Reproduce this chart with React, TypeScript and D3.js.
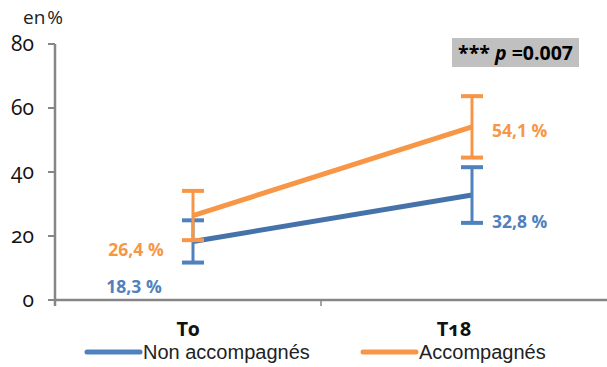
import React from "react";
import * as d3 from "d3";

// Chart data
const categories = ["T0", "T18"];
const seriesNames = ["Non accompagnés", "Accompagnés"];
const nonAccompagnes = [18.3, 32.8];
const accompagnes = [26.4, 54.1];
const nonAccompagnesErr = [6.6, 8.7];
const accompagnesErr = [7.7, 9.6];
const yTicks = [0, 20, 40, 60, 80];
const pValueLabel = "0.007";

const W = 607;
const H = 367;
const BLUE = "#4F81BD";
const BLUE_LINE = "#4672AA";
const ORANGE = "#F79646";
const AXIS = "#868686";
const tickFont = "'Open Sans', 'DejaVu Sans', sans-serif";
const labelFont = "'Open Sans', 'Liberation Sans', sans-serif";

export default function App() {
  const y = d3.scaleLinear().domain([0, 80]).range([300, 44]);
  const xBand = d3.scaleBand<string>().domain(categories).range([55, 587]);
  const xPt = d3.scalePoint<string>().domain(categories).range([193, 472]);

  const line = d3
    .line<number>()
    .x((_, i) => xPt(categories[i]) as number)
    .y((d) => y(d));

  const series = [
    { name: seriesNames[0], values: nonAccompagnes, err: nonAccompagnesErr, color: BLUE, lineColor: BLUE_LINE },
    { name: seriesNames[1], values: accompagnes, err: accompagnesErr, color: ORANGE, lineColor: ORANGE },
  ];

  const fmt = (v: number) => v.toFixed(1).replace(".", ",") + " %";

  return (
    <svg
      width={W}
      height={H}
      style={{ position: "absolute", left: 0, top: 0, background: "#fff" }}
    >
      {/* unit label */}
      <text x={23} y={24} fontFamily={labelFont} fontSize={19} wordSpacing={-3} fill="#222">
        en %
      </text>

      {/* y axis */}
      <line x1={55} x2={55} y1={y(80)} y2={y(0) + 6} stroke={AXIS} strokeWidth={2.5} />
      {yTicks.map((t) => (
        <g key={t}>
          <line x1={48} x2={55} y1={y(t)} y2={y(t)} stroke={AXIS} strokeWidth={2} />
          <text
            x={34}
            y={y(t)}
            dy="0.32em"
            textAnchor="end"
            fontFamily={tickFont}
            fontSize={21}
            fill="#111"
            style={{ fontVariantNumeric: "oldstyle-nums" }}
          >
            {t}
          </text>
        </g>
      ))}

      {/* x axis */}
      <line x1={54} x2={W} y1={y(0)} y2={y(0)} stroke={AXIS} strokeWidth={2.5} />
      <line
        x1={xBand("T18") as number}
        x2={xBand("T18") as number}
        y1={y(0)}
        y2={y(0) + 6}
        stroke={AXIS}
        strokeWidth={1.5}
      />
      {categories.map((c) => (
        <text
          key={c}
          x={(xBand(c) as number) + xBand.bandwidth() / 2}
          y={336}
          textAnchor="middle"
          fontFamily={tickFont}
          fontWeight="bold"
          fontSize={20}
          fill="#111"
          style={{ fontVariantNumeric: "oldstyle-nums" }}
        >
          {c}
        </text>
      ))}

      {/* lines */}
      {series.map((s) => (
        <path
          key={s.name}
          d={line(s.values) as string}
          fill="none"
          stroke={s.lineColor}
          strokeWidth={5}
        />
      ))}

      {/* error bars */}
      {series.map((s) =>
        s.values.map((v, i) => {
          const cx = xPt(categories[i]) as number;
          const hi = y(v + s.err[i]);
          const lo = y(v - s.err[i]);
          return (
            <g key={s.name + i} stroke={s.color}>
              <line x1={cx} x2={cx} y1={hi} y2={lo} strokeWidth={3} />
              <line x1={cx - 11} x2={cx + 11} y1={hi} y2={hi} strokeWidth={4} />
              <line x1={cx - 11} x2={cx + 11} y1={lo} y2={lo} strokeWidth={4} />
            </g>
          );
        })
      )}

      {/* value labels */}
      <text x={134} y={293} textAnchor="middle" fontFamily={labelFont} fontWeight="bold" fontSize={17.5} fill={BLUE}>
        {fmt(nonAccompagnes[0])}
      </text>
      <text x={136} y={256} textAnchor="middle" fontFamily={labelFont} fontWeight="bold" fontSize={17.5} fill={ORANGE}>
        {fmt(accompagnes[0])}
      </text>
      <text x={492} y={137} fontFamily={labelFont} fontWeight="bold" fontSize={17.5} fill={ORANGE}>
        {fmt(accompagnes[1])}
      </text>
      <text x={492} y={228} fontFamily={labelFont} fontWeight="bold" fontSize={17.5} fill={BLUE}>
        {fmt(nonAccompagnes[1])}
      </text>

      {/* significance box */}
      <rect x={452} y={38} width={127} height={29} fill="#C0C0C0" />
      <text
        x={515.5}
        y={60}
        textAnchor="middle"
        fontFamily="'Open Sans', 'Liberation Sans', sans-serif"
        fontWeight="bold"
        fontSize={19.5}
        fill="#000"
      >
        {"*** "}
        <tspan fontStyle="italic">p</tspan>
        {" ="}
        {pValueLabel}
      </text>

      {/* legend */}
      {series.map((s, i) => {
        const lx = i === 0 ? 87 : 363;
        return (
          <g key={s.name}>
            <line
              x1={lx}
              x2={lx + 53}
              y1={352}
              y2={352}
              stroke={s.color}
              strokeWidth={5}
              strokeLinecap="round"
            />
            <text
              x={lx + 56}
              y={359}
              fontFamily="'Liberation Sans', Arial, sans-serif"
              fontSize={20}
              fill="#222"
            >
              {s.name}
            </text>
          </g>
        );
      })}
    </svg>
  );
}
